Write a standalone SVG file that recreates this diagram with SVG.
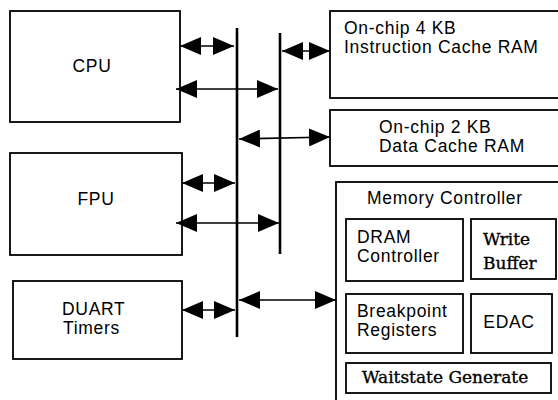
<svg xmlns="http://www.w3.org/2000/svg" width="558" height="400" viewBox="0 0 558 400">
<style>
.box{fill:#fff;stroke:#000;stroke-width:1.8}
.bus{stroke:#000;stroke-width:2.6;fill:none}
.con{stroke:#000;stroke-width:1.6;fill:none;marker-start:url(#ah);marker-end:url(#ah)}
.t{font-family:"Liberation Sans",Arial,sans-serif;font-size:17.5px;letter-spacing:0.7px;fill:#000}
.s{font-family:"DejaVu Serif",serif;font-size:17px;fill:#000;stroke:#000;stroke-width:0.35}
</style>
<defs>
<marker id="ah" viewBox="0 0 21 18" refX="21" refY="9" markerWidth="21" markerHeight="18" markerUnits="userSpaceOnUse" orient="auto-start-reverse">
<path d="M0,0 L21,9 L0,18 z" fill="#000"/>
</marker>
</defs>
<rect width="558" height="400" fill="#fff"/>
<g id="cpu"><rect class="box" x="10" y="11" width="170" height="111"/><text class="t" x="92" y="72" text-anchor="middle">CPU</text></g>
<g id="fpu"><rect class="box" x="10" y="153" width="172" height="102"/><text class="t" x="96" y="205" text-anchor="middle">FPU</text></g>
<g id="duart"><rect class="box" x="13" y="281" width="169" height="78"/><text class="t" x="62" y="315">DUART</text><text class="t" x="63" y="334">Timers</text></g>
<g id="icache"><rect class="box" x="330" y="11" width="240" height="87"/><text class="t" x="344" y="34">On-chip 4 KB</text><text class="t" x="344" y="53">Instruction Cache RAM</text></g>
<g id="dcache"><rect class="box" x="330" y="110" width="240" height="56"/><text class="t" x="379" y="133">On-chip 2 KB</text><text class="t" x="379" y="152">Data Cache RAM</text></g>
<g id="memctrl"><rect class="box" x="336" y="182" width="240" height="230"/><text class="t" x="367" y="204">Memory Controller</text></g>
<g id="dram"><rect class="box" x="346" y="219" width="117" height="62"/><text class="t" x="357" y="243">DRAM</text><text class="t" x="357" y="262">Controller</text></g>
<g id="wbuf"><rect class="box" x="471" y="219" width="85" height="60"/><text class="s" x="483" y="245">Write</text><text class="s" x="483" y="269">Buffer</text></g>
<g id="bkpt"><rect class="box" x="346" y="294" width="117" height="59"/><text class="t" x="357" y="317">Breakpoint</text><text class="t" x="357" y="336">Registers</text></g>
<g id="edac"><rect class="box" x="471" y="294" width="81" height="59"/><text class="t" x="509" y="328" text-anchor="middle">EDAC</text></g>
<g id="wait"><rect class="box" x="346" y="363" width="205" height="30"/><text class="s" x="362" y="383">Waitstate Generate</text></g>
<g id="connectors">
<line class="bus" x1="237" y1="28" x2="237" y2="337"/>
<line class="bus" x1="280" y1="33" x2="280" y2="254"/>
<line class="con" x1="180" y1="46" x2="234" y2="46"/>
<line class="con" x1="176" y1="89" x2="278" y2="89"/>
<line class="con" x1="282" y1="51" x2="330" y2="51"/>
<line class="con" x1="239" y1="139" x2="330" y2="137"/>
<line class="con" x1="182" y1="183" x2="235" y2="183"/>
<line class="con" x1="176" y1="223" x2="279" y2="223"/>
<line class="con" x1="182" y1="310" x2="235" y2="310"/>
<line class="con" x1="239" y1="300" x2="336" y2="300"/>
</g>
</svg>
